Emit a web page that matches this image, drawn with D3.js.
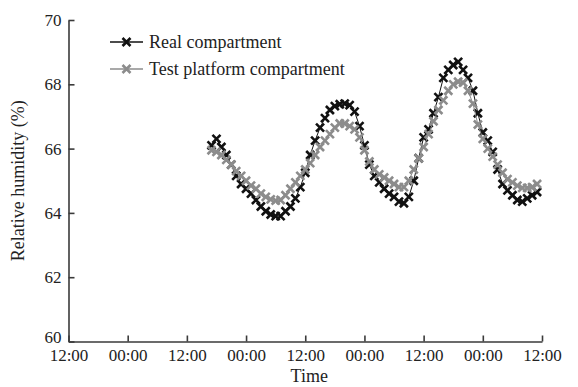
<!DOCTYPE html>
<html>
<head>
<meta charset="utf-8">
<script src="https://cdn.jsdelivr.net/npm/d3@7"></script>
<style>
  body { margin: 0; background: #fff; }
  svg { display: block; }
  text { font-family: "Liberation Serif", "Times New Roman", serif; fill: #222; }
</style>
</head>
<body>
<svg id="chart" width="578" height="387"></svg>
<script>
// hours counted from the first 12:00 tick
var hours = [29, 30, 31, 32, 33, 34, 35, 36, 37, 38, 39, 40, 41, 42, 43, 44, 45, 46, 47, 48,
    49, 50, 51, 52, 53, 54, 55, 56, 57, 58, 59, 60, 61, 62, 63, 64, 65, 66, 67, 68,
    69, 70, 71, 72, 73, 74, 75, 76, 77, 78, 79, 80, 81, 82, 83, 84, 85, 86, 87, 88,
    89, 90, 91, 92, 93, 94, 95];

var realRH = [66.1, 66.3, 66.05, 65.8, 65.5, 65.15, 64.9, 64.75, 64.6, 64.4, 64.2, 64.05, 63.95, 63.9, 63.9, 64.05, 64.2, 64.45, 64.8, 65.25,
    65.8, 66.25, 66.65, 66.95, 67.2, 67.32, 67.38, 67.4, 67.35, 67.15, 66.7, 66.1, 65.5, 65.15, 64.95, 64.75, 64.6, 64.5, 64.35, 64.3,
    64.5, 65.0, 65.7, 66.35, 66.6, 67.1, 67.6, 68.2, 68.45, 68.6, 68.7, 68.45, 68.2, 67.8, 67.1, 66.5, 66.25, 65.9, 65.35, 64.9,
    64.7, 64.55, 64.4, 64.35, 64.45, 64.55, 64.65];

var testRH = [65.95, 65.9, 65.8, 65.65, 65.5, 65.3, 65.15, 65.0, 64.85, 64.75, 64.6, 64.5, 64.42, 64.38, 64.4, 64.55, 64.75, 64.95, 65.15, 65.35,
    65.55, 65.8, 66.05, 66.25, 66.45, 66.65, 66.78, 66.78, 66.7, 66.6, 66.35, 65.95, 65.6, 65.35, 65.2, 65.1, 65.0, 64.9, 64.8, 64.8,
    65.0, 65.35, 65.7, 66.05, 66.45, 66.85, 67.2, 67.5, 67.8, 68.0, 68.08, 68.05, 67.8, 67.4, 66.75, 66.3, 66.0, 65.75, 65.5, 65.25,
    65.05, 64.95, 64.85, 64.78, 64.78, 64.8, 64.9];

var xTicks = [0, 12, 24, 36, 48, 60, 72, 84, 96];
var xTickLabels = ["12:00", "00:00", "12:00", "00:00", "12:00", "00:00", "12:00", "00:00", "12:00"];
var yTicks = [60, 62, 64, 66, 68, 70];

var series = [
    { name: "Real compartment", values: realRH, color: "#111" },
    { name: "Test platform compartment", values: testRH, color: "#8c8c8c" }
];

var svg = d3.select("#chart"),
    WIDTH = 578,
    HEIGHT = 387,
    MARGINS = { top: 20, right: 36, bottom: 45.5, left: 68.5 };

var xScale = d3.scaleLinear().domain([0, 96]).range([MARGINS.left, WIDTH - MARGINS.right]);
var yScale = d3.scaleLinear().domain([60, 70]).range([HEIGHT - MARGINS.bottom, MARGINS.top]);

var xAxis = d3.axisBottom(xScale)
    .tickValues(xTicks)
    .tickFormat(function(d, i) { return xTickLabels[i]; })
    .tickSizeInner(-6)
    .tickSizeOuter(0)
    .tickPadding(9);
var yAxis = d3.axisLeft(yScale)
    .tickValues(yTicks)
    .tickSizeInner(-6)
    .tickSizeOuter(0)
    .tickPadding(7);

var gx = svg.append("g")
    .attr("transform", "translate(0," + (HEIGHT - MARGINS.bottom) + ")")
    .call(xAxis);
var gy = svg.append("g")
    .attr("transform", "translate(" + MARGINS.left + ",0)")
    .call(yAxis);

[gx, gy].forEach(function(g) {
    g.select(".domain").attr("stroke", "#3a3a3a").attr("stroke-width", 1.6);
    g.selectAll(".tick line").attr("stroke", "#3a3a3a").attr("stroke-width", 1.6);
    g.selectAll(".tick text")
        .attr("font-family", "Liberation Serif, serif")
        .attr("font-size", 17)
        .attr("fill", "#222");
});
gx.selectAll(".tick text").attr("dy", "0.6em");
// the bottom label sits a little above the axis line, clear of the first time label
gy.selectAll(".tick text").filter(function(d) { return d === 60; }).attr("dy", "0.05em");

svg.append("text")
    .attr("x", (MARGINS.left + WIDTH - MARGINS.right) / 2 + 4)
    .attr("y", 382)
    .attr("text-anchor", "middle")
    .attr("font-size", 18)
    .text("Time");

svg.append("text")
    .attr("transform", "translate(24," + ((MARGINS.top + HEIGHT - MARGINS.bottom) / 2) + ") rotate(-90)")
    .attr("text-anchor", "middle")
    .attr("font-size", 18)
    .text("Relative humidity (%)");

function cross(g, x, y, color) {
    var s = 4;
    g.append("path")
        .attr("d", "M" + (x - s) + "," + (y - s) + "L" + (x + s) + "," + (y + s) +
                   "M" + (x - s) + "," + (y + s) + "L" + (x + s) + "," + (y - s))
        .attr("stroke", color)
        .attr("stroke-width", 2.6)
        .attr("fill", "none");
}

var lineGen = d3.line()
    .x(function(d, i) { return xScale(hours[i]); })
    .y(function(d) { return yScale(d); });

series.forEach(function(s) {
    var g = svg.append("g");
    g.append("path")
        .attr("d", lineGen(s.values))
        .attr("stroke", s.color)
        .attr("stroke-width", 1)
        .attr("fill", "none");
    s.values.forEach(function(v, i) {
        cross(g, xScale(hours[i]), yScale(v), s.color);
    });
});

// legend
var legend = svg.append("g");
series.forEach(function(s, i) {
    var ly = 42 + i * 27;
    legend.append("line")
        .attr("x1", 110).attr("x2", 143)
        .attr("y1", ly).attr("y2", ly)
        .attr("stroke", s.color)
        .attr("stroke-width", 1.6);
    cross(legend, 126.5, ly, s.color);
    legend.append("text")
        .attr("x", 149)
        .attr("y", ly)
        .attr("dy", "0.33em")
        .attr("font-size", 18)
        .text(s.name);
});
</script>
</body>
</html>
